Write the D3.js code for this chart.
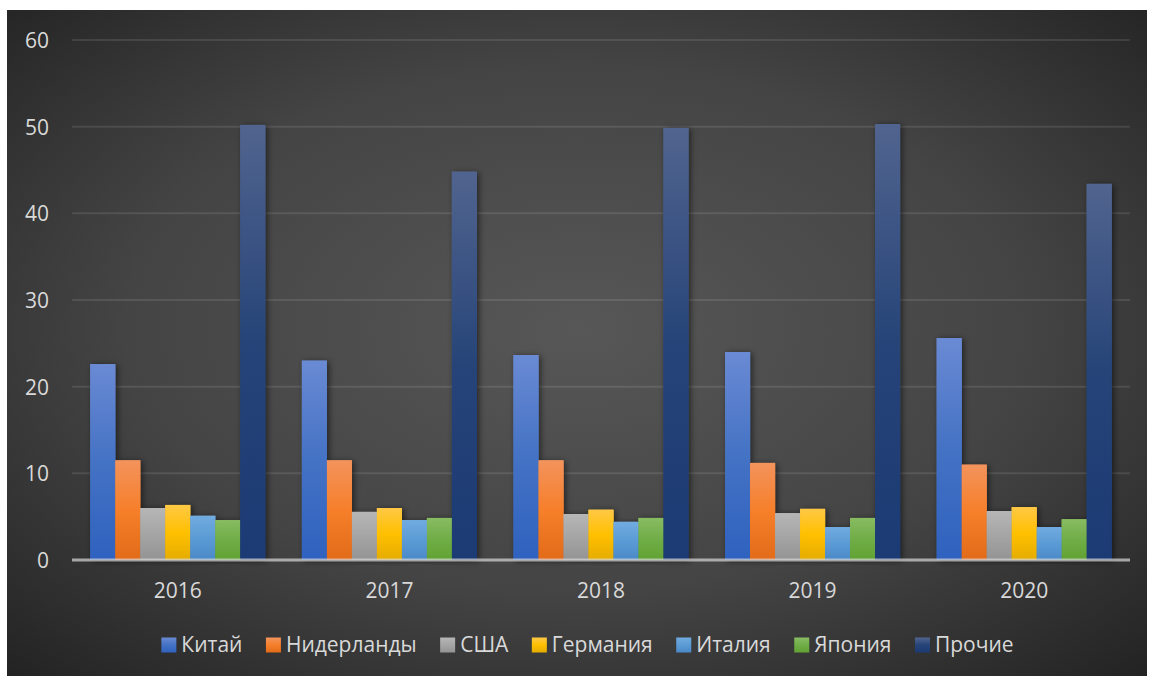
<!DOCTYPE html>
<html>
<head>
<meta charset="utf-8">
<script src="https://cdn.jsdelivr.net/npm/d3@7"></script>
<style>
  html, body { margin: 0; padding: 0; background: #ffffff; }
  svg { display: block; }
  text { font-family: "Open Sans", "Noto Sans", sans-serif; }
</style>
</head>
<body>
<svg id="chart" width="1150" height="677"></svg>
<script>
// Years on the category axis
const years = ["2016", "2017", "2018", "2019", "2020"];

// Series names (legend order)
const seriesNames = ["Китай", "Нидерланды", "США", "Германия", "Италия", "Япония", "Прочие"];

// Values per series, one per year
const china       = [22.6, 23.0, 23.65, 24.0, 25.6];
const netherlands = [11.5, 11.5, 11.5, 11.2, 11.0];
const usa         = [6.0, 5.55, 5.3, 5.4, 5.65];
const germany     = [6.35, 6.0, 5.8, 5.9, 6.1];
const italy       = [5.1, 4.6, 4.4, 3.8, 3.8];
const japan       = [4.6, 4.85, 4.85, 4.85, 4.7];
const others      = [50.2, 44.8, 49.85, 50.3, 43.4];

// Y-axis ticks
const yTicks = [0, 10, 20, 30, 40, 50, 60];

// Series colours: [top, middle, bottom] for the vertical gradient
const seriesColors = [
  ["#6a8ad4", "#4472c4", "#2f62bf"],
  ["#f3935c", "#f67f2a", "#e26b19"],
  ["#b6b6b6", "#a5a5a5", "#939393"],
  ["#ffc845", "#ffc000", "#e5ac00"],
  ["#71abe0", "#5b9bd5", "#4a89c7"],
  ["#88bc62", "#70ad47", "#61a233"],
  ["#51648f", "#264478", "#1c3a74"]
];

const seriesValues = [china, netherlands, usa, germany, italy, japan, others];

const rows = years.map((y, i) => ({
  year: y,
  values: seriesNames.map((name, s) => ({ name, s, value: seriesValues[s][i] }))
}));

const FONT_SIZE = 21;
const TEXT_COLOR = "#d9d9d9";

const svg = d3.select("#chart");
const defs = svg.append("defs");

// Background: dark radial gradient
const bg = defs.append("radialGradient").attr("id", "bgGrad")
  .attr("cx", 0.5).attr("cy", 0.48).attr("r", 0.72);
bg.append("stop").attr("offset", 0).attr("stop-color", "#575757");
bg.append("stop").attr("offset", 0.55).attr("stop-color", "#444444");
bg.append("stop").attr("offset", 1).attr("stop-color", "#232323");

// Bar gradients
seriesColors.forEach((c, i) => {
  const g = defs.append("linearGradient").attr("id", "barGrad" + i)
    .attr("x1", 0).attr("y1", 0).attr("x2", 0).attr("y2", 1);
  g.append("stop").attr("offset", 0).attr("stop-color", c[0]);
  g.append("stop").attr("offset", 0.5).attr("stop-color", c[1]);
  g.append("stop").attr("offset", 1).attr("stop-color", c[2]);
});

// Soft shadow for bars
const sh = defs.append("filter").attr("id", "barShadow")
  .attr("x", "-50%").attr("y", "-10%").attr("width", "200%").attr("height", "120%");
sh.append("feDropShadow").attr("dx", 2).attr("dy", 1).attr("stdDeviation", 3)
  .attr("flood-color", "#000").attr("flood-opacity", 0.55);

// Chart area
svg.append("rect")
  .attr("x", 7).attr("y", 10).attr("width", 1140).attr("height", 666)
  .attr("fill", "url(#bgGrad)");

const plot = { left: 72, right: 1130, top: 40, bottom: 560 };

const y = d3.scaleLinear().domain([0, 60]).range([plot.bottom, plot.top]);
const x0 = d3.scaleBand().domain(years).range([plot.left, plot.right]).paddingInner(0).paddingOuter(0);
const x1 = d3.scaleBand().domain(seriesNames).range([0, x0.bandwidth()])
  .paddingInner(0).paddingOuter(0.732);

// Gridlines
svg.append("g")
  .selectAll("line")
  .data(yTicks.filter(t => t > 0))
  .join("line")
  .attr("x1", plot.left).attr("x2", plot.right)
  .attr("y1", d => y(d)).attr("y2", d => y(d))
  .attr("stroke", "#ffffff").attr("stroke-opacity", 0.1).attr("stroke-width", 2);

// Y axis labels
const yAxis = d3.axisLeft(y).tickValues(yTicks).tickSize(0).tickPadding(0);
const yg = svg.append("g").attr("transform", `translate(${plot.left - 23},0)`).call(yAxis);
yg.select(".domain").remove();
yg.selectAll("text")
  .attr("fill", TEXT_COLOR).attr("font-size", FONT_SIZE)
  .attr("font-family", "'Open Sans', sans-serif")
  .attr("dy", "0.35em");

// Bars
const groups = svg.append("g").selectAll("g")
  .data(rows)
  .join("g")
  .attr("transform", d => `translate(${x0(d.year)},0)`);

groups.selectAll("rect")
  .data(d => d.values)
  .join("rect")
  .attr("x", d => x1(d.name))
  .attr("y", d => y(d.value))
  .attr("width", x1.bandwidth())
  .attr("height", d => y(0) - y(d.value))
  .attr("fill", d => `url(#barGrad${d.s})`)
  .attr("filter", "url(#barShadow)");

// Bar faces on top, so one bar's shadow never covers its neighbour
groups.selectAll("rect.face")
  .data(d => d.values)
  .join("rect")
  .attr("class", "face")
  .attr("x", d => x1(d.name))
  .attr("y", d => y(d.value))
  .attr("width", x1.bandwidth())
  .attr("height", d => y(0) - y(d.value))
  .attr("fill", d => `url(#barGrad${d.s})`);

// Baseline
svg.append("line")
  .attr("x1", plot.left).attr("x2", plot.right)
  .attr("y1", y(0)).attr("y2", y(0))
  .attr("stroke", "#d9d9d9").attr("stroke-opacity", 0.7).attr("stroke-width", 3);

// X axis labels
const xAxis = d3.axisBottom(x0).tickSize(0).tickPadding(0);
const xg = svg.append("g").attr("transform", `translate(0,${plot.bottom + 31})`).call(xAxis);
xg.select(".domain").remove();
xg.selectAll("text")
  .attr("fill", TEXT_COLOR).attr("font-size", FONT_SIZE)
  .attr("font-family", "'Open Sans', sans-serif")
  .attr("dy", "0.35em");

// Legend
const legend = svg.append("g").attr("transform", "translate(0,645)");
const items = legend.selectAll("g").data(seriesNames).join("g");
items.append("rect")
  .attr("y", -7.5).attr("width", 15).attr("height", 15)
  .attr("fill", (d, i) => `url(#barGrad${i})`);
items.append("text")
  .attr("x", 20).attr("dy", "0.35em")
  .attr("fill", TEXT_COLOR).attr("font-size", FONT_SIZE)
  .text(d => d);

// Lay out legend entries side by side, centred
const gap = 23.5;
let widths = [];
items.each(function () {
  widths.push(20 + this.querySelector("text").getComputedTextLength());
});
const total = d3.sum(widths) + gap * (widths.length - 1);
let cx = 587.5 - total / 2;
items.attr("transform", (d, i) => {
  const t = `translate(${cx},0)`;
  cx += widths[i] + gap;
  return t;
});
</script>
</body>
</html>
